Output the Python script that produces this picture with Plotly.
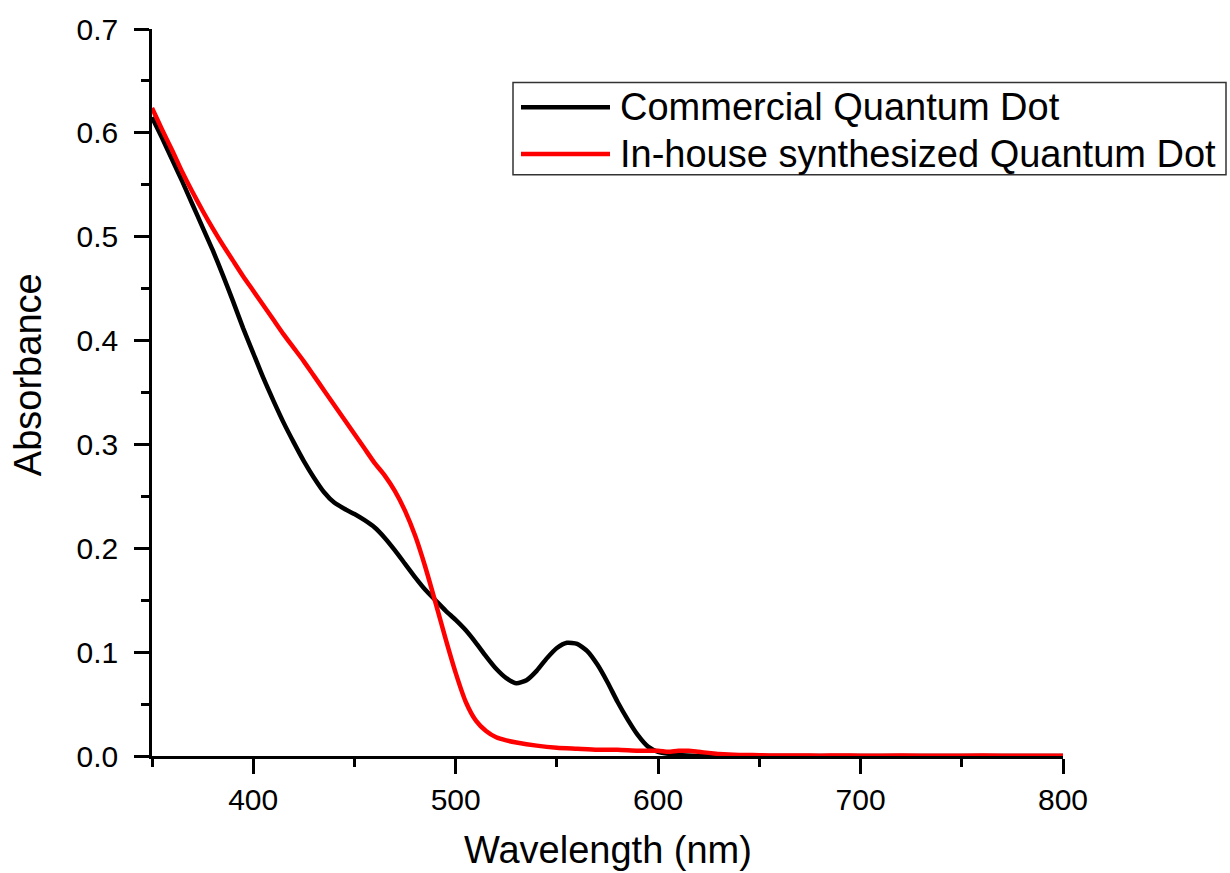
import plotly.graph_objects as go

# Wavelength (nm) and absorbance values
wl_commercial = [350, 355, 360, 365, 370, 375, 380, 385, 390, 395, 400, 405, 410, 415, 420,
                 425, 430, 435, 440, 445, 450, 455, 460, 465, 470, 475, 480, 485, 490, 495,
                 500, 505, 510, 515, 520, 525, 530, 535, 540, 545, 550, 555, 560, 565, 570,
                 575, 580, 585, 590, 595, 600, 610, 620, 650, 700, 750, 800]
abs_commercial = [0.615, 0.595, 0.574, 0.553, 0.531, 0.509, 0.487, 0.463, 0.438, 0.412, 0.388, 0.364, 0.342, 0.321, 0.302,
                  0.284, 0.268, 0.254, 0.244, 0.238, 0.233, 0.227, 0.220, 0.210, 0.198, 0.185, 0.172, 0.160, 0.150, 0.140,
                  0.131, 0.121, 0.109, 0.096, 0.084, 0.075, 0.070, 0.073, 0.082, 0.094, 0.104, 0.109, 0.108, 0.101, 0.088,
                  0.071, 0.052, 0.035, 0.020, 0.009, 0.004, 0.001, 0.000, 0.000, 0.000, 0.000, 0.000]

wl_inhouse = [350, 355, 360, 365, 370, 375, 380, 385, 390, 395, 400, 405, 410, 415, 420,
              425, 430, 435, 440, 445, 450, 455, 460, 465, 470, 475, 480, 485, 490, 495,
              500, 505, 510, 515, 520, 525, 530, 540, 550, 560, 570, 580, 590, 600, 605,
              610, 615, 620, 625, 630, 640, 650, 660, 670, 680, 690, 700, 720, 740, 760, 780, 800]
abs_inhouse = [0.624, 0.603, 0.583, 0.562, 0.543, 0.525, 0.508, 0.492, 0.477, 0.462, 0.448, 0.434, 0.420, 0.406, 0.393,
               0.380, 0.366, 0.352, 0.338, 0.324, 0.310, 0.296, 0.282, 0.270, 0.255, 0.236, 0.212, 0.182, 0.148, 0.113,
               0.080, 0.052, 0.034, 0.024, 0.018, 0.015, 0.013, 0.010, 0.008, 0.007, 0.006, 0.006, 0.005, 0.005, 0.004,
               0.005, 0.005, 0.004, 0.003, 0.002, 0.001, 0.0008, 0.0004, 0.0006, 0.0003, 0.0005, 0.0003, 0.0004, 0.0002, 0.0004, 0.0002, 0.0003]

series_names = ["Commercial Quantum Dot", "In-house synthesized Quantum Dot"]
series_colors = ["#000000", "#ff0000"]

FONT = "Arial, Liberation Sans, sans-serif"

fig = go.Figure()
fig.add_trace(go.Scatter(x=wl_commercial, y=abs_commercial, mode="lines",
                         line=dict(color=series_colors[0], width=4.5, shape="spline", smoothing=0.6),
                         name=series_names[0], showlegend=False))
fig.add_trace(go.Scatter(x=wl_inhouse, y=abs_inhouse, mode="lines",
                         line=dict(color=series_colors[1], width=4.5, shape="spline", smoothing=0.6),
                         name=series_names[1], showlegend=False))

L, R, T, B = 152, 167, 23, 117
W, H = 1230, 873
pw, ph = W - L - R, H - T - B

def px(x):
    return (x - L) / pw

def py(y):
    return (H - B - y) / ph

axis_common = dict(showline=True, linecolor="black", linewidth=2.5, ticks="outside",
                   ticklen=15, tickwidth=2.5, tickcolor="black", showgrid=False,
                   zeroline=False, mirror=False,
                   tickfont=dict(family=FONT, size=30, color="black"))

fig.update_xaxes(range=[350, 800], tick0=0, dtick=100, ticklabelstandoff=0,
                 minor=dict(dtick=50, ticks="outside", ticklen=8, tickwidth=2.5, tickcolor="black"),
                 **axis_common)
fig.update_yaxes(range=[0, 0.7], tick0=0, dtick=0.1, tickformat=".1f", ticklabelstandoff=10,
                 minor=dict(dtick=0.05, ticks="outside", ticklen=8, tickwidth=2.5, tickcolor="black"),
                 **axis_common)

annotations = [
    dict(text="Wavelength (nm)", xref="paper", yref="paper", x=0.5, y=py(851),
         xanchor="center", yanchor="middle", showarrow=False,
         font=dict(family=FONT, size=38, color="black")),
    dict(text="Absorbance", xref="paper", yref="paper", x=px(28), y=py(372),
         xanchor="center", yanchor="middle", showarrow=False, textangle=-90,
         font=dict(family=FONT, size=38, color="black")),
]
shapes = [
    dict(type="rect", xref="paper", yref="paper", x0=px(513), x1=px(1226), y0=py(170), y1=py(77),
         line=dict(color="#333333", width=1.5), fillcolor="white", layer="below"),
]
legend_rows = [102, 149]
for name, color, row in zip(series_names, series_colors, legend_rows):
    shapes.append(dict(type="line", xref="paper", yref="paper", x0=px(521), x1=px(610),
                       y0=py(row), y1=py(row), line=dict(color=color, width=4.5)))
    annotations.append(dict(text=name, xref="paper", yref="paper", x=px(618), y=py(row),
                            xanchor="left", yanchor="middle", showarrow=False,
                            font=dict(family=FONT, size=38, color="black")))

fig.update_layout(width=W, height=H, margin=dict(l=L, r=R, t=T, b=B),
                  paper_bgcolor="white", plot_bgcolor="white",
                  showlegend=False, annotations=annotations, shapes=shapes)

fig.write_html("out.html")
